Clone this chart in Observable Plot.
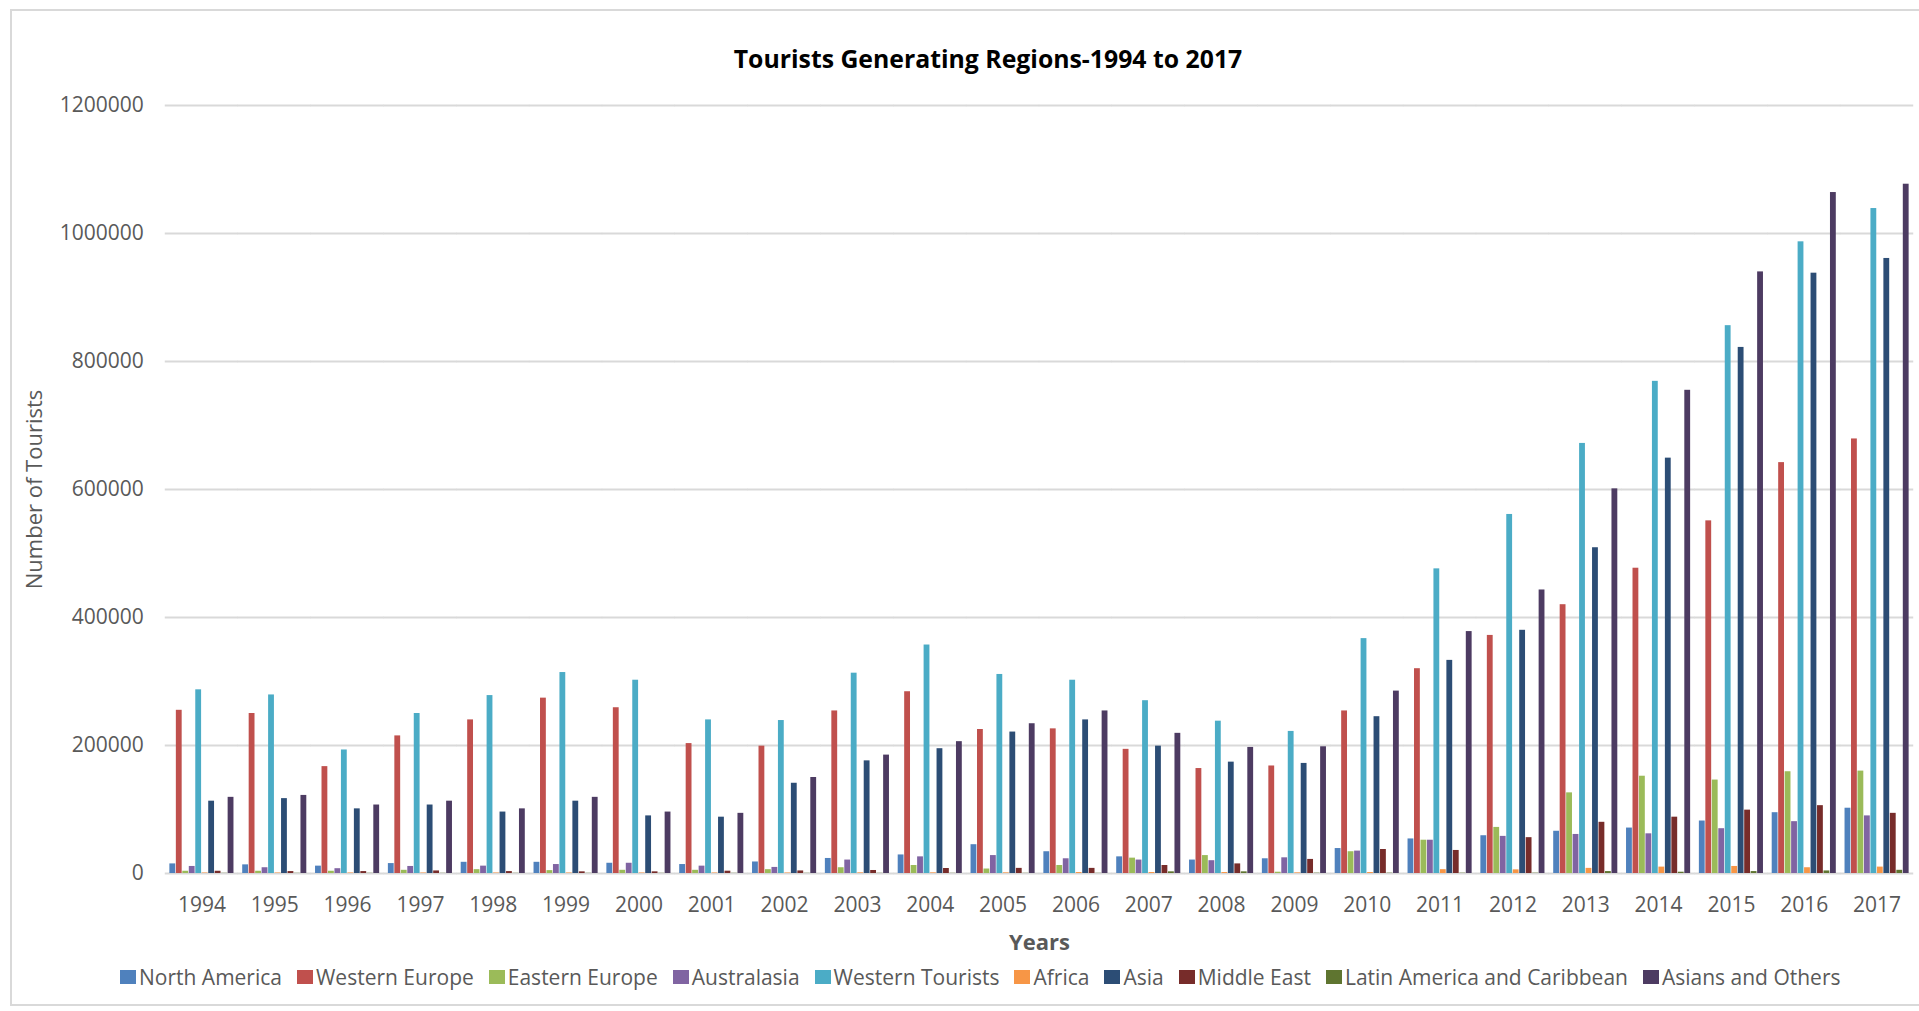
<!DOCTYPE html>
<html>
<head>
<meta charset="utf-8">
<script src="https://cdn.jsdelivr.net/npm/d3@7"></script>
<script src="https://cdn.jsdelivr.net/npm/@observablehq/plot@0.6"></script>
<style>
  html, body { margin: 0; padding: 0; background: #fff; }
  body { width: 1919px; height: 1011px; position: relative; overflow: hidden; font-family: "Open Sans", sans-serif; }
  #frame { position: absolute; left: 10px; top: 9px; width: 1915px; height: 997px; border: 2px solid #d9d9d9; box-sizing: border-box; }
  #title { position: absolute; left: 0; width: 1976px; top: 42px; text-align: center; font-weight: bold; font-size: 24.8px; color: #000; line-height: 32px; }
  #chart { position: absolute; left: 0; top: 80px; width: 1919px; }
  #chart svg { width: 1919px; max-width: none; }
  #legend { position: absolute; left: 120px; top: 963px; display: flex; gap: 15px; font-size: 21px; color: #595959; line-height: 28px; white-space: nowrap; }
  #legend .item { display: flex; align-items: center; gap: 3px; }
  #legend .sw { width: 16px; height: 14px; display: inline-block; }
</style>
</head>
<body>
<div id="frame"></div>
<div id="title">Tourists Generating Regions-1994 to 2017</div>
<div id="chart"></div>
<div id="legend"></div>
<script>
// Arrivals by generating region, 1994–2017
const years = ["1994","1995","1996","1997","1998","1999","2000","2001","2002","2003","2004","2005",
               "2006","2007","2008","2009","2010","2011","2012","2013","2014","2015","2016","2017"];

const regions = ["North America","Western Europe","Eastern Europe","Australasia","Western Tourists",
                 "Africa","Asia","Middle East","Latin America and Caribbean","Asians and Others"];

const regionColors = ["#4F81BD","#C0504D","#9BBB59","#8064A2","#4BACC6",
                      "#F79646","#2C4D75","#772C2A","#5F7530","#4D3B62"];

const northAmerica = [15000,13500,11500,15500,17500,17500,16000,14000,18000,23500,29000,45000,
                      34000,26000,21000,23000,39000,54000,59000,66000,71000,82000,95000,102000];
const westernEurope = [255000,250000,167000,215000,240000,274000,259000,203000,199000,254000,284000,225000,
                       226000,194000,164000,168000,254000,320000,372000,420000,477000,551000,642000,679000];
const easternEurope = [3500,3500,3500,5000,6000,4500,5000,5000,6000,9000,12500,7000,
                       12500,24000,28000,2000,34000,52000,72000,126000,152000,146000,159000,160000];
const australasia = [11000,9000,7500,11000,11500,14000,16000,11500,9500,21000,26000,28000,
                     23000,21000,20000,24500,35000,52000,58000,61000,62000,70000,81000,90000];
const westernTourists = [287000,279000,193000,250000,278000,314000,302000,240000,239000,313000,357000,311000,
                         302000,270000,238000,222000,367000,476000,561000,672000,769000,856000,987000,1039000];
const africa = [800,800,800,800,800,800,800,800,800,1000,1000,1000,
                1500,1500,1500,1000,1500,6000,5700,8000,10000,11000,9000,10000];
const asia = [113000,117000,101000,107000,96000,113000,90000,88000,141000,176000,195000,221000,
              240000,199000,174000,172000,245000,333000,380000,509000,649000,822000,938000,961000];
const middleEast = [3500,3000,3000,4000,3000,2600,2600,3600,4000,4700,7800,8000,
                    8000,12500,15000,22000,37500,36000,56000,80000,88000,99000,106000,94000];
const latinAmerica = [300,300,300,300,300,300,300,300,300,300,300,300,
                      300,2600,2600,500,500,500,500,3000,2000,3000,4000,5000];
const asiansOthers = [119000,122000,107000,113000,101000,119000,96000,94000,150000,185000,206000,234000,
                      254000,219000,197000,198000,285000,378000,443000,601000,755000,940000,1064000,1077000];

const yTicks = [0, 200000, 400000, 600000, 800000, 1000000, 1200000];

const series = [northAmerica, westernEurope, easternEurope, australasia, westernTourists,
                africa, asia, middleEast, latinAmerica, asiansOthers];

// long table: one row per (year, region)
const rows = years.flatMap((year, i) =>
  regions.map((region, r) => ({year, region, value: series[r][i]}))
);

const chart = Plot.plot({
  width: 1919,
  height: 878,
  marginTop: 25,
  marginBottom: 85,
  marginLeft: 165,
  marginRight: 6,
  style: {fontFamily: "'Open Sans', sans-serif", fontSize: "21px", color: "#595959", background: "transparent", overflow: "visible"},
  fx: {domain: years, paddingInner: 0.12, paddingOuter: 0.06, round: false, label: null, tickSize: 0, tickPadding: 24},
  x: {domain: regions, axis: null, paddingInner: 0.1, paddingOuter: 0, round: false},
  y: {domain: [0, 1200000], ticks: yTicks, tickFormat: d3.format("d"), tickSize: 0, tickPadding: 26, label: null},
  color: {domain: regions, range: regionColors},
  marks: [
    // gridlines repeat in every year panel; negative insets close the gaps between panels
    Plot.ruleY(yTicks, {stroke: "#d9d9d9", strokeWidth: 2, insetLeft: -4.6, insetRight: -4.6}),
    Plot.barY(rows, {fx: "year", x: "region", y: "value", fill: "region"}),
    Plot.text(["Number of Tourists"], {frameAnchor: "left", textAnchor: "middle", rotate: -90, dx: -135, fontSize: 22, fill: "#595959", facet: "super"}),
    Plot.text(["Years"], {frameAnchor: "bottom", dy: 76, fontSize: 22, fontWeight: "bold", fill: "#595959", facet: "super"})
  ]
});
document.getElementById("chart").appendChild(chart);

// legend row
const legend = document.getElementById("legend");
regions.forEach((name, i) => {
  const item = document.createElement("div");
  item.className = "item";
  const sw = document.createElement("span");
  sw.className = "sw";
  sw.style.background = regionColors[i];
  const label = document.createElement("span");
  label.textContent = name;
  item.append(sw, label);
  legend.appendChild(item);
});
</script>
</body>
</html>
